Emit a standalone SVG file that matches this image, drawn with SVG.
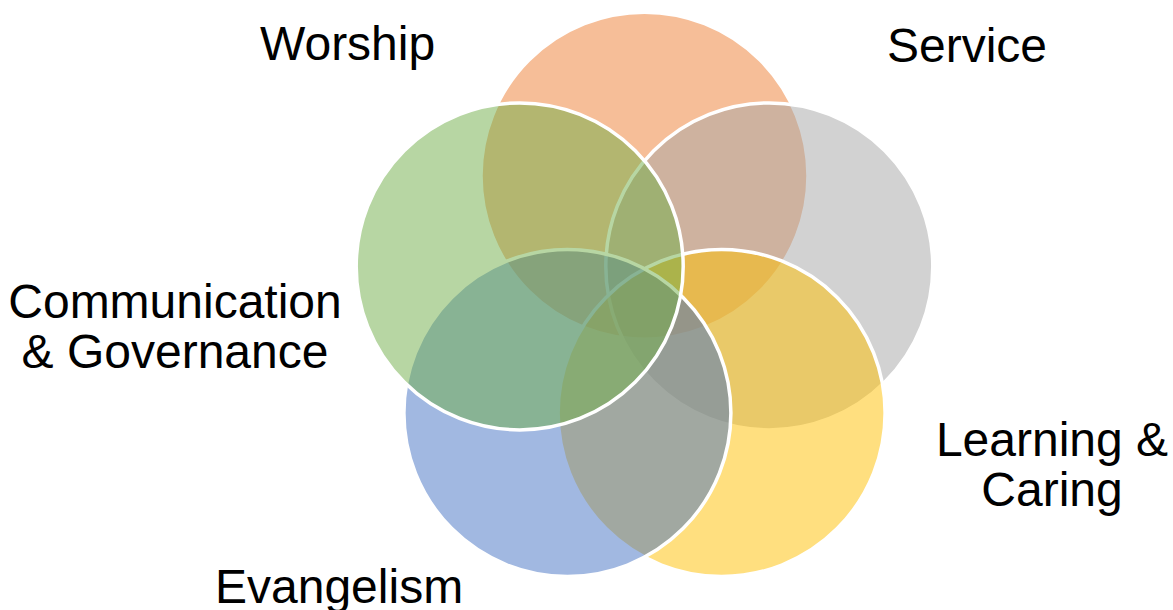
<svg xmlns="http://www.w3.org/2000/svg" width="1173" height="610" viewBox="0 0 1173 610">
<style>
.c{stroke:#FFFFFF;stroke-width:3.5;fill-opacity:0.5}
.t{font-family:"Liberation Sans",Arial,sans-serif;font-size:48px;fill:#000000}
</style>
<rect width="1173" height="610" fill="#FFFFFF"/>
<g id="worship"><circle class="c" cx="644.5" cy="175.7" r="163.5" fill="#ED7D31"/></g>
<g id="service"><circle class="c" cx="769.3" cy="266.4" r="163.5" fill="#A5A5A5"/></g>
<g id="learning"><circle class="c" cx="721.6" cy="413" r="163.5" fill="#FFC000"/></g>
<g id="evangelism"><circle class="c" cx="567.4" cy="413" r="163.5" fill="#4472C4"/></g>
<g id="communication"><circle class="c" cx="519.7" cy="266.4" r="163.5" fill="#70AD47"/></g>
<g id="labels">
<text class="t" x="260" y="60">Worship</text>
<text class="t" x="887" y="62">Service</text>
<text class="t" text-anchor="middle" x="175" y="318">Communication</text>
<text class="t" text-anchor="middle" x="175" y="368">&amp; Governance</text>
<text class="t" text-anchor="middle" x="1052" y="456">Learning &amp;</text>
<text class="t" text-anchor="middle" x="1052" y="506">Caring</text>
<text class="t" x="215" y="603">Evangelism</text>
</g>
<g id="connectors"/>
</svg>
